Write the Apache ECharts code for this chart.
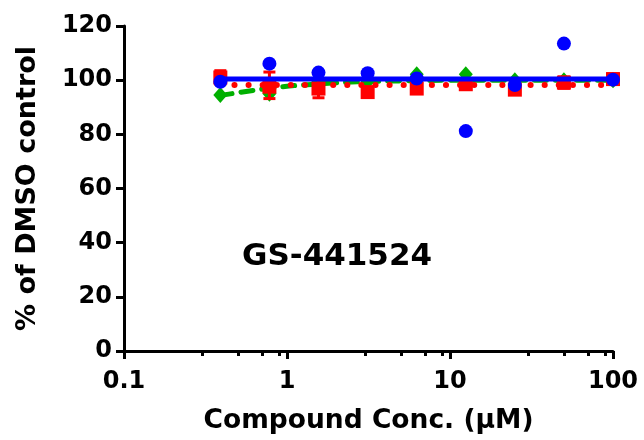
<!DOCTYPE html>
<html>
<head>
<meta charset="utf-8">
<script src="https://cdn.jsdelivr.net/npm/echarts@6/dist/echarts.min.js"></script>
<style>html,body{margin:0;padding:0;background:#fff}#c{width:644px;height:440px}</style>
</head>
<body>
<div id="c"></div>
<script>
// ---- data ----
const conc = [0.39, 0.78, 1.56, 3.125, 6.25, 12.5, 25, 50, 100];
const blueVals = [99.4, 106.1, 102.8, 102.6, 100.6, 81.2, 98.2, 113.5, 100.2];
const redVals = [101.0, 97.6, 96.9, 95.6, 96.9, 98.5, 96.5, 99.1, 100.4];
const redLow = [98.5, 93.2, 93.5, null, null, null, null, 97.0, 98.5];
const redHigh = [103.5, 103.0, 100.3, null, null, null, null, 101.2, 102.3];
const greenVals = [94.5, 95.0, 99.5, 99.5, 102.2, 102.2, 100.0, 100.0, 100.0];
const blueFit = [100.4, 100.4, 100.4, 100.4, 100.4, 100.4, 100.4, 100.4, 100.4];
const redFit = [98.2, 98.2, 98.2, 98.2, 98.2, 98.2, 98.2, 98.2, 98.2];
const greenFit = [94.3, 97.0, 98.6, 99.5, 99.8, 100.0, 100.0, 100.0, 100.0];
const xTickLabels = ['0.1', '1', '10', '100'];
const xMinorTicks = [0.3, 0.5, 0.7, 0.9, 3, 5, 7, 9, 30, 50, 70, 90];
const yTicks = [0, 20, 40, 60, 80, 100, 120];
const labelText = 'GS-441524';
const xTitle = 'Compound Conc. (\u03bcM)';
const yTitle = '% of DMSO control';

const FONT = 'DejaVu Sans';
const pairs = (ys) => conc.map((x, i) => [x, ys[i]]);

const errData = conc.map((x, i) => [x, redLow[i], redHigh[i]]).filter(d => d[1] != null);

const chart = echarts.init(document.getElementById('c'), null, {renderer: 'canvas'});
chart.setOption({
  animation: false,
  backgroundColor: '#fff',
  grid: {left: 124, right: 31, top: 26, bottom: 88},
  xAxis: [{
    type: 'log', logBase: 10, min: 0.1, max: 100,
    name: xTitle, nameLocation: 'middle', nameGap: 57,
    nameTextStyle: {fontFamily: FONT, fontWeight: 'bold', fontSize: 26.5, color: '#000'},
    axisLine: {onZero: false, lineStyle: {color: '#000', width: 3}},
    axisTick: {show: true, length: 8, lineStyle: {color: '#000', width: 3}},
    axisLabel: {
      margin: 19, fontFamily: FONT, fontWeight: 'bold', fontSize: 24, color: '#000',
      formatter: v => { const s = String(Number(v.toPrecision(3))); return xTickLabels.includes(s) ? s : ''; }
    },
    splitLine: {show: false}
  }, {
    type: 'value', min: -1, max: 2, position: 'bottom', gridIndex: 0,
    axisLine: {show: false, onZero: false},
    axisTick: {show: true, length: 5, lineStyle: {color: '#000', width: 3},
      customValues: xMinorTicks.map(v => Math.log10(v))},
    axisLabel: {show: false},
    splitLine: {show: false}
  }],
  yAxis: {
    type: 'value', min: 0, max: 120, interval: 20,
    name: yTitle, nameLocation: 'middle', nameGap: 83,
    nameTextStyle: {fontFamily: FONT, fontWeight: 'bold', fontSize: 27, color: '#000'},
    axisLine: {show: true, onZero: false, lineStyle: {color: '#000', width: 3}},
    axisTick: {show: true, length: 8, lineStyle: {color: '#000', width: 3}},
    axisLabel: {margin: 12, fontFamily: FONT, fontWeight: 'bold', fontSize: 24, color: '#000',
      formatter: v => yTicks.includes(v) ? String(v) : ''},
    splitLine: {show: false}
  },
  graphic: [{
    type: 'text', left: 242, top: 241,
    style: {text: labelText, font: 'bold 31px "DejaVu Sans"', fill: '#000'}
  }],
  series: [
    {type: 'line', data: pairs(greenFit), smooth: true, symbol: 'none', z: 2,
      lineStyle: {color: '#00b000', width: 5, type: [12, 9], cap: 'round'}},
    {type: 'scatter', data: pairs(greenVals), symbol: 'diamond', symbolSize: [14, 16], z: 3,
      itemStyle: {color: '#00b000', opacity: 1}},
    {type: 'custom', z: 4, data: errData,
      renderItem: (params, api) => {
        const x = api.value(0);
        const lo = api.coord([x, api.value(1)]);
        const hi = api.coord([x, api.value(2)]);
        const w = 6;
        const st = {stroke: '#ff0000', lineWidth: 3};
        return {type: 'group', children: [
          {type: 'line', shape: {x1: lo[0], y1: lo[1], x2: hi[0], y2: hi[1]}, style: st},
          {type: 'line', shape: {x1: lo[0] - w, y1: lo[1], x2: lo[0] + w, y2: lo[1]}, style: st},
          {type: 'line', shape: {x1: hi[0] - w, y1: hi[1], x2: hi[0] + w, y2: hi[1]}, style: st}
        ]};
      }},
    {type: 'scatter', data: pairs(redVals), symbol: 'rect', symbolSize: 14, z: 5,
      itemStyle: {color: '#ff0000', opacity: 1}},
    {type: 'line', data: pairs(redFit), symbol: 'none', z: 6,
      lineStyle: {color: '#ff0000', width: 6, type: [0.1, 14], cap: 'round'}},
    {type: 'line', data: pairs(blueFit), symbol: 'none', z: 7,
      lineStyle: {color: '#0000ff', width: 5}},
    {type: 'scatter', data: pairs(blueVals), symbol: 'circle', symbolSize: 14, z: 8,
      itemStyle: {color: '#0000ff', opacity: 1}}
  ]
});
</script>
</body>
</html>
